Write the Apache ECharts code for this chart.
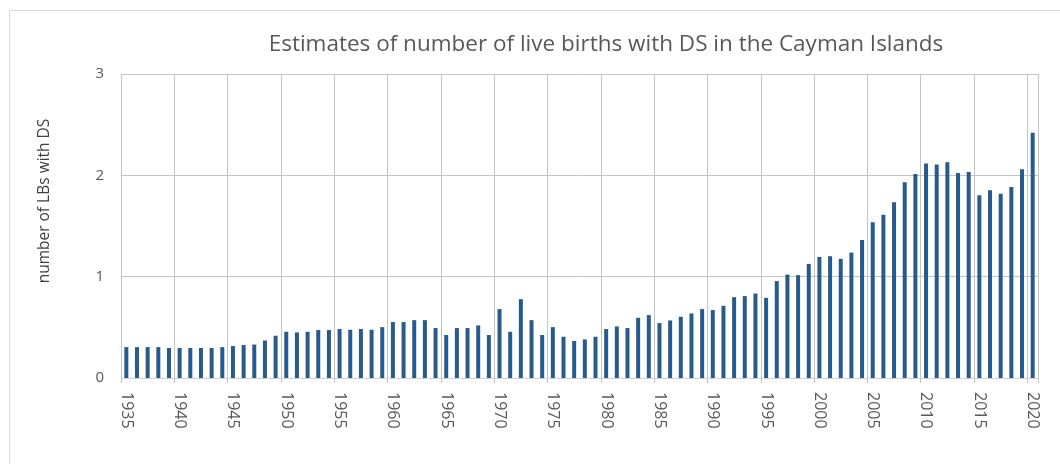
<!DOCTYPE html>
<html>
<head>
<meta charset="utf-8">
<script src="https://cdn.jsdelivr.net/npm/echarts@6/dist/echarts.min.js"></script>
<style>
  html, body { margin: 0; padding: 0; background: #fff; }
  #chart { width: 1060px; height: 464px; }
</style>
</head>
<body>
<div id="chart"></div>
<script>
// years 1935..2020
const years = [];
for (let y = 1935; y <= 2020; y++) years.push(String(y));

const liveBirthsDS = [
  0.305, 0.305, 0.305, 0.305, 0.296, 0.296, 0.296, 0.296, 0.296, 0.305,
  0.315, 0.325, 0.33, 0.37, 0.417, 0.456, 0.45, 0.456, 0.473, 0.473,
  0.483, 0.476, 0.483, 0.476, 0.502, 0.552, 0.552, 0.571, 0.571, 0.493,
  0.424, 0.493, 0.493, 0.519, 0.424, 0.68, 0.456, 0.778, 0.571, 0.424,
  0.502, 0.407, 0.365, 0.381, 0.407, 0.483, 0.509, 0.493, 0.594, 0.621,
  0.542, 0.568, 0.604, 0.637, 0.68, 0.67, 0.713, 0.798, 0.808, 0.834,
  0.791, 0.956, 1.021, 1.015, 1.126, 1.195, 1.202, 1.176, 1.238, 1.363,
  1.537, 1.612, 1.734, 1.931, 2.013, 2.118, 2.108, 2.128, 2.023, 2.033,
  1.803, 1.852, 1.819, 1.885, 2.059, 2.42
];

const titleText = 'Estimates of number of live births with DS in the Cayman Islands';
const yTitle = 'number of LBs with DS';

const textColor = '#595959';
const gridColor = '#c4c4c4';
const font = 'Open Sans';

const chart = echarts.init(document.getElementById('chart'));

chart.setOption({
  animation: false,
  backgroundColor: '#fff',
  graphic: [{
    type: 'rect',
    left: 7, top: 8,
    shape: { width: 1070, height: 480 },
    style: { fill: 'none', stroke: '#d9d9d9', lineWidth: 1 }
  }],
  title: {
    text: titleText,
    left: 601,
    top: 28,
    textAlign: 'center',
    textStyle: { fontFamily: font, fontSize: 22.5, fontWeight: 'normal', color: textColor }
  },
  grid: { left: 121, right: 22, top: 74, bottom: 86 },
  xAxis: {
    type: 'category',
    data: years,
    boundaryGap: true,
    axisLine: { lineStyle: { color: '#ccd3dc', width: 1 } },
    axisTick: { show: true, interval: 4, length: 5, lineStyle: { color: gridColor } },
    splitLine: { show: true, interval: 4, lineStyle: { color: gridColor, width: 1 } },
    axisLabel: {
      interval: 4,
      rotate: -90,
      margin: 14,
      fontFamily: font,
      fontSize: 16,
      color: textColor
    }
  },
  yAxis: {
    type: 'value',
    min: 0, max: 3, interval: 1,
    name: yTitle,
    nameLocation: 'middle',
    nameGap: 68,
    nameRotate: 90,
    nameTextStyle: { fontFamily: font, fontSize: 15.5, color: '#404040', padding: [0, 0, 0, 50] },
    axisLine: { show: false },
    axisTick: { show: false },
    splitLine: { lineStyle: { color: gridColor, width: 1 } },
    axisLabel: { margin: 17, fontFamily: font, fontSize: 15, color: textColor }
  },
  series: [{
    type: 'bar',
    data: liveBirthsDS,
    barWidth: 4,
    itemStyle: { color: '#285a8c' }
  }]
});
</script>
</body>
</html>
